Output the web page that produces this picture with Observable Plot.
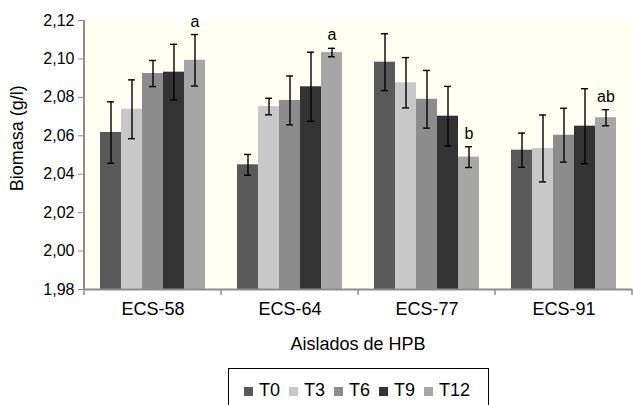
<!DOCTYPE html>
<html>
<head>
<meta charset="utf-8">
<script src="https://cdn.jsdelivr.net/npm/d3@7"></script>
<script src="https://cdn.jsdelivr.net/npm/@observablehq/plot@0.6"></script>
<style>
  html, body { margin: 0; padding: 0; background: #ffffff; }
  body { width: 633px; height: 405px; overflow: hidden; font-family: "Liberation Sans", Arial, sans-serif; }
  #chart svg { display: block; }
  #legend {
    position: absolute; left: 228px; top: 368px; width: 261px; height: 52px;
    border: 1px solid #000; box-sizing: border-box;
    display: flex; align-items: flex-start; padding-top: 12px; padding-left: 15px;
    font-size: 18px; color: #000; line-height: 18px;
  }
  .item { display: flex; align-items: center; margin-right: 9px; }
  .sw { width: 9px; height: 9px; margin-right: 6px; margin-top: 2px; }
</style>
</head>
<body>
<div id="chart"></div>
<div id="legend"></div>
<script>
const categories = ["ECS-58", "ECS-64", "ECS-77", "ECS-91"];
const series = ["T0", "T3", "T6", "T9", "T12"];
const seriesColors = ["#595959", "#c8c8c8", "#8c8c8c", "#333333", "#a6a6a6"];
// values per series, one per category
const meansT0  = [2.0617, 2.0449, 2.0983, 2.0525];
const meansT3  = [2.0738, 2.0752, 2.0876, 2.0534];
const meansT6  = [2.0924, 2.0784, 2.0790, 2.0603];
const meansT9  = [2.0931, 2.0855, 2.0702, 2.0650];
const meansT12 = [2.0993, 2.1033, 2.0489, 2.0694];
const errT0  = [0.0160, 0.0054, 0.0148, 0.0089];
const errT3  = [0.0153, 0.0043, 0.0131, 0.0174];
const errT6  = [0.0068, 0.0127, 0.0150, 0.0140];
const errT9  = [0.0145, 0.0180, 0.0155, 0.0195];
const errT12 = [0.0134, 0.0022, 0.0054, 0.0042];
const letters = ["a", "a", "b", "ab"]; // on T12 bars
const yTicks = [1.98, 2.00, 2.02, 2.04, 2.06, 2.08, 2.10, 2.12];
const yLabel = "Biomasa (g/l)";
const xLabel = "Aislados de HPB";

const means = [meansT0, meansT3, meansT6, meansT9, meansT12];
const errs = [errT0, errT3, errT6, errT9, errT12];
const rows = [];
categories.forEach((c, ci) => series.forEach((s, si) => {
  rows.push({cat: c, ser: s, v: means[si][ci], e: errs[si][ci]});
}));
const letterRows = categories.map((c, ci) => ({cat: c, ser: "T12", top: means[4][ci] + errs[4][ci], t: letters[ci]}));
const base = yTicks[0];

const plot = Plot.plot({
  width: 633,
  height: 360,
  marginTop: 20,
  marginBottom: 71,
  marginLeft: 84,
  marginRight: 1,
  style: {fontFamily: "'Liberation Sans', Arial, sans-serif", color: "#000", background: "transparent"},
  fx: {domain: categories, padding: 0, label: null},
  x: {domain: series, paddingInner: 0, paddingOuter: 0.76, axis: null},
  y: {domain: [yTicks[0], yTicks[yTicks.length - 1]], label: null},
  color: {domain: series, range: seriesColors},
  marks: [
    Plot.frame({fill: "#fffff2", stroke: null}),
    Plot.barY(rows, {fx: "cat", x: "ser", y1: () => base, y2: "v", fill: "ser"}),
    Plot.ruleX(rows, {fx: "cat", x: "ser", y1: d => d.v - d.e, y2: d => d.v + d.e, stroke: "#000", strokeWidth: 1.4}),
    Plot.tickY(rows, {fx: "cat", x: "ser", y: d => d.v + d.e, stroke: "#000", strokeWidth: 1.4, inset: 7}),
    Plot.tickY(rows, {fx: "cat", x: "ser", y: d => d.v - d.e, stroke: "#000", strokeWidth: 1.4, inset: 7}),
    Plot.text(letterRows, {fx: "cat", x: "ser", y: "top", text: "t", dy: -13, fontSize: 16, fill: "#000"}),
    Plot.ruleY([base], {stroke: "#8c8c8c", strokeWidth: 2}),
    Plot.axisY({ticks: yTicks, tickFormat: d => d.toFixed(2).replace(".", ","), tickSize: 6, tickPadding: 4, fontSize: 16, stroke: "#8c8c8c", label: null}),
    Plot.axisFx({anchor: "bottom", tickSize: 0, tickPadding: 13, fontSize: 18, label: null})
  ]
});
document.getElementById("chart").appendChild(plot);

// Decorations from scales: y axis line, category boundary ticks, axis titles
const svg = d3.select(plot);
const fx = plot.scale("fx");
const y = plot.scale("y");
const x0 = fx.range[0], x1 = fx.range[1];
const yb = y.apply(base), yt = y.apply(yTicks[yTicks.length - 1]);
svg.append("line").attr("x1", x0).attr("x2", x0).attr("y1", yt).attr("y2", yb + 1)
  .attr("stroke", "#8c8c8c").attr("stroke-width", 2);
const bounds = categories.map(c => fx.apply(c)).concat([fx.apply(categories[categories.length - 1]) + fx.bandwidth]);
bounds.forEach(b => {
  svg.append("line").attr("x1", b).attr("x2", b).attr("y1", yb).attr("y2", yb + 6)
    .attr("stroke", "#8c8c8c").attr("stroke-width", 1.5);
});
svg.append("text").attr("transform", `translate(17,${y.apply(2.06) + 3}) rotate(-90)`)
  .attr("text-anchor", "middle").attr("dominant-baseline", "central")
  .attr("font-size", 18).attr("fill", "#000").text(yLabel);
svg.append("text").attr("x", (x0 + x1) / 2).attr("y", yb + 61)
  .attr("text-anchor", "middle").attr("font-size", 18).attr("fill", "#000").text(xLabel);

// Legend
const leg = d3.select("#legend");
series.forEach((s, i) => {
  const it = leg.append("div").attr("class", "item");
  it.append("div").attr("class", "sw").style("background", seriesColors[i]);
  it.append("span").text(s);
});
</script>
</body>
</html>
